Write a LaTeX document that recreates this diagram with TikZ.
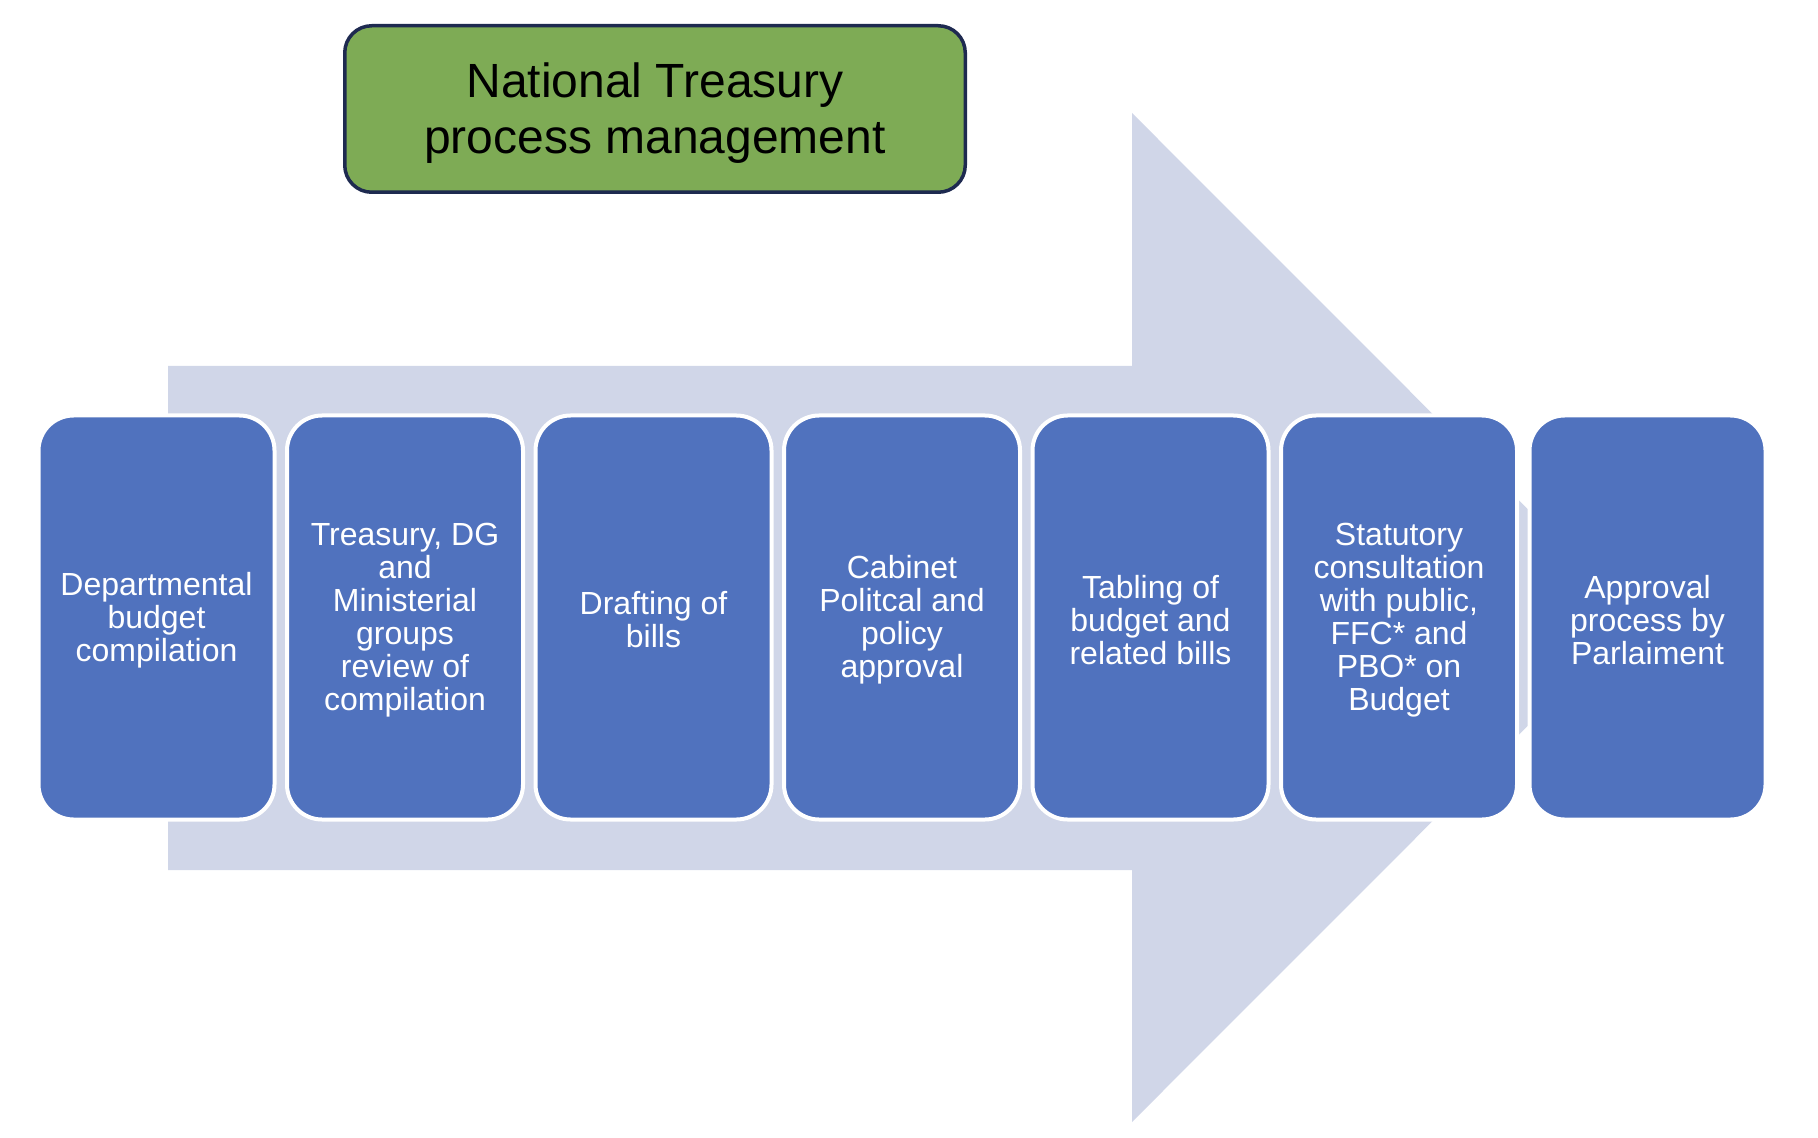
\documentclass[tikz,border=0pt]{standalone}
\usepackage{fontspec}
\setmainfont{Liberation Sans}
\definecolor{arrowfill}{RGB}{208,214,232}
\definecolor{boxfill}{RGB}{80,114,190}
\definecolor{titlefill}{RGB}{126,171,85}
\definecolor{titledraw}{RGB}{30,42,80}
\begin{document}
\begin{tikzpicture}[x=0.5pt,y=-0.5pt,
  stepbox/.style={draw=white, line width=2pt, fill=boxfill, rounded corners=17.5pt,
    minimum width=118pt, minimum height=202pt, inner sep=0pt},
  steptext/.style={align=center, text=white, inner sep=0pt, yshift=-1.25pt,
    font=\fontsize{16}{16.5}\selectfont},
  titlebox/.style={draw=titledraw, line width=1.75pt, fill=titlefill, rounded corners=13.5pt,
    minimum width=310.25pt, minimum height=83.25pt, inner sep=0pt},
  titletext/.style={align=center, text=black, inner sep=0pt, yshift=-2pt,
    font=\fontsize{24}{27.75}\selectfont}]
\useasboundingbox (0,0) rectangle (1818,1138);
\fill[arrowfill] (168,366) -- (1132,366) -- (1132,113) -- (1636,617.5) -- (1132,1122) -- (1132,870) -- (168,870) -- cycle;
\node[titlebox, label={[titletext]center:{National Treasury\\process management}}] (title) at (655,109) {};
\node[stepbox, label={[steptext]center:{Departmental\\budget\\compilation}}] (s1) at (156.5,617.5) {};
\node[stepbox, label={[steptext]center:{Treasury, DG\\and\\Ministerial\\groups\\review of\\compilation}}] (s2) at (405,617.5) {};
\node[stepbox, label={[steptext]center:{Drafting of\\bills}}] (s3) at (653.5,617.5) {};
\node[stepbox, label={[steptext]center:{Cabinet\\Politcal and\\policy\\approval}}] (s4) at (902,617.5) {};
\node[stepbox, label={[steptext]center:{Tabling of\\budget and\\related bills}}] (s5) at (1150.5,617.5) {};
\node[stepbox, label={[steptext]center:{Statutory\\consultation\\with public,\\FFC* and\\PBO* on\\Budget}}] (s6) at (1399,617.5) {};
\node[stepbox, label={[steptext]center:{Approval\\process by\\Parlaiment}}] (s7) at (1647.5,617.5) {};
\end{tikzpicture}
\end{document}
